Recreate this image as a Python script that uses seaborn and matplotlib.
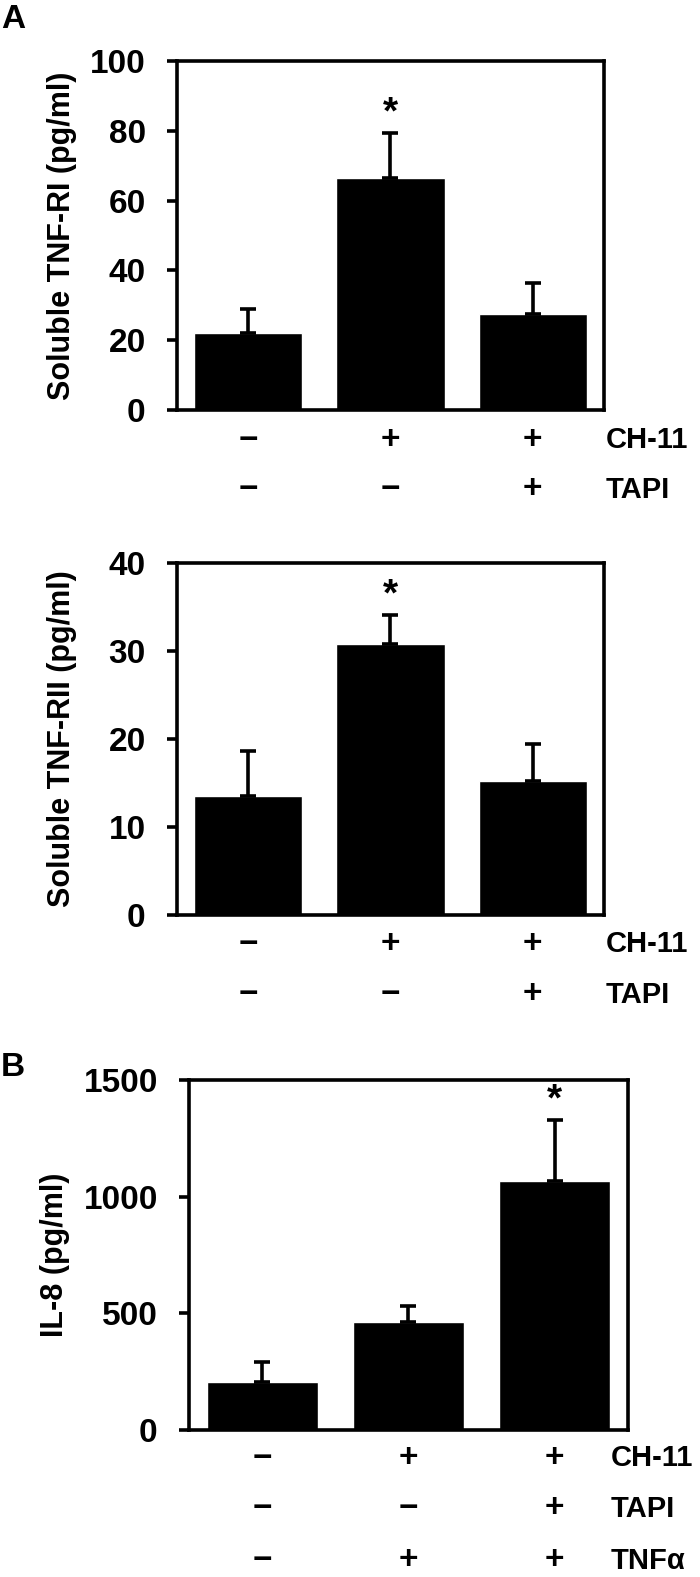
import numpy as np
import pandas as pd
import matplotlib
matplotlib.use("Agg")
import matplotlib.pyplot as plt
import matplotlib.transforms as mtransforms
import seaborn as sns

# panel A (top): soluble TNF-RI
tnfr1_mean = [22.2, 66.5, 27.5]
tnfr1_err = [6.7, 12.9, 9.0]
# panel A (bottom): soluble TNF-RII
tnfr2_mean = [13.5, 30.8, 15.2]
tnfr2_err = [5.1, 3.3, 4.2]
# panel B: IL-8
il8_mean = [204, 464, 1069]
il8_err = [89, 67, 260]

groups = ["g1", "g2", "g3"]
ch11 = ["\u2212", "+", "+"]
tapi = ["\u2212", "\u2212", "+"]
tnfa = ["\u2212", "+", "+"]
signif = [False, True, False]
signif_b = [False, False, True]

sns.set_style("white")
plt.rcParams["font.family"] = ["Liberation Sans", "DejaVu Sans"]
plt.rcParams["font.weight"] = "bold"
plt.rcParams["text.color"] = "black"
plt.rcParams["axes.labelcolor"] = "black"
plt.rcParams["ytick.color"] = "black"

fig = plt.figure(figsize=(7, 15.77), dpi=100)
W, H = 700, 1577


def make_axes(left, right, top, bottom):
    return fig.add_axes([left / W, 1 - bottom / H, (right - left) / W, (bottom - top) / H])


def draw_panel(ax, means, errs, ymax, step, ylabel, label_px, rows, row_names, row_px,
               name_px, stars):
    df = pd.DataFrame({"group": groups, "value": means})
    sns.barplot(data=df, x="group", y="value", color="black", saturation=1,
                width=0.76, errorbar=None, ax=ax)
    ax.errorbar(range(len(means)), means, yerr=[np.zeros(len(errs)), errs],
                fmt="none", ecolor="black", elinewidth=2.6, capsize=5.5, capthick=2.6)
    ax.set_xlim(-0.5, 2.5)
    ax.set_ylim(0, ymax)
    ax.set_yticks(np.arange(0, ymax + step, step))
    ax.set_xticks([])
    ax.set_xlabel("")
    ax.set_ylabel(ylabel, fontsize=22, fontweight="bold")
    lab_tr = mtransforms.blended_transform_factory(fig.transFigure, ax.transAxes)
    ax.yaxis.set_label_coords(label_px / W, 0.5, transform=lab_tr)
    for s in ax.spines.values():
        s.set_visible(True)
        s.set_linewidth(2.6)
        s.set_color("black")
    ax.tick_params(axis="y", direction="out", length=7.5, width=2.6, left=True,
                   pad=15, labelsize=24)
    for lab in ax.get_yticklabels():
        lab.set_fontweight("bold")
    # condition rows under the bars
    row_tr = mtransforms.blended_transform_factory(ax.transData, fig.transFigure)
    for r, (row, name) in enumerate(zip(rows, row_names)):
        y = 1 - row_px[r] / H
        for i, sym in enumerate(row):
            ax.text(i, y, sym, transform=row_tr, ha="center", va="center",
                    fontsize=24, fontweight="bold")
        ax.text(name_px / W, y, name, transform=fig.transFigure, ha="left", va="center",
                fontsize=21, fontweight="bold")
    for i, star in enumerate(stars):
        if star:
            ax.text(i, means[i] + errs[i] + ymax * 0.055, "*", ha="center", va="center",
                    fontsize=28, fontweight="bold")


ax1 = make_axes(177, 604, 61, 410)
draw_panel(ax1, tnfr1_mean, tnfr1_err, 100, 20, "Soluble TNF-RI (pg/ml)", 77,
           [ch11, tapi], ["CH-11", "TAPI"], [440, 490], 606, signif)

ax2 = make_axes(177, 604, 563, 915)
draw_panel(ax2, tnfr2_mean, tnfr2_err, 40, 10, "Soluble TNF-RII (pg/ml)", 77,
           [ch11, tapi], ["CH-11", "TAPI"], [944, 995], 606, signif)

ax3 = make_axes(189, 628, 1080, 1430)
draw_panel(ax3, il8_mean, il8_err, 1500, 500, "IL-8 (pg/ml)", 70,
           [ch11, tapi, tnfa], ["CH-11", "TAPI", "TNF\u03b1"], [1458, 1509, 1561],
           611, signif_b)

fig.text(1 / W, 1 - 19 / H, "A", fontsize=24, fontweight="bold", va="center", ha="left")
fig.text(1 / W, 1 - 1067 / H, "B", fontsize=24, fontweight="bold", va="center", ha="left")

fig.savefig("out.png", dpi=100)
